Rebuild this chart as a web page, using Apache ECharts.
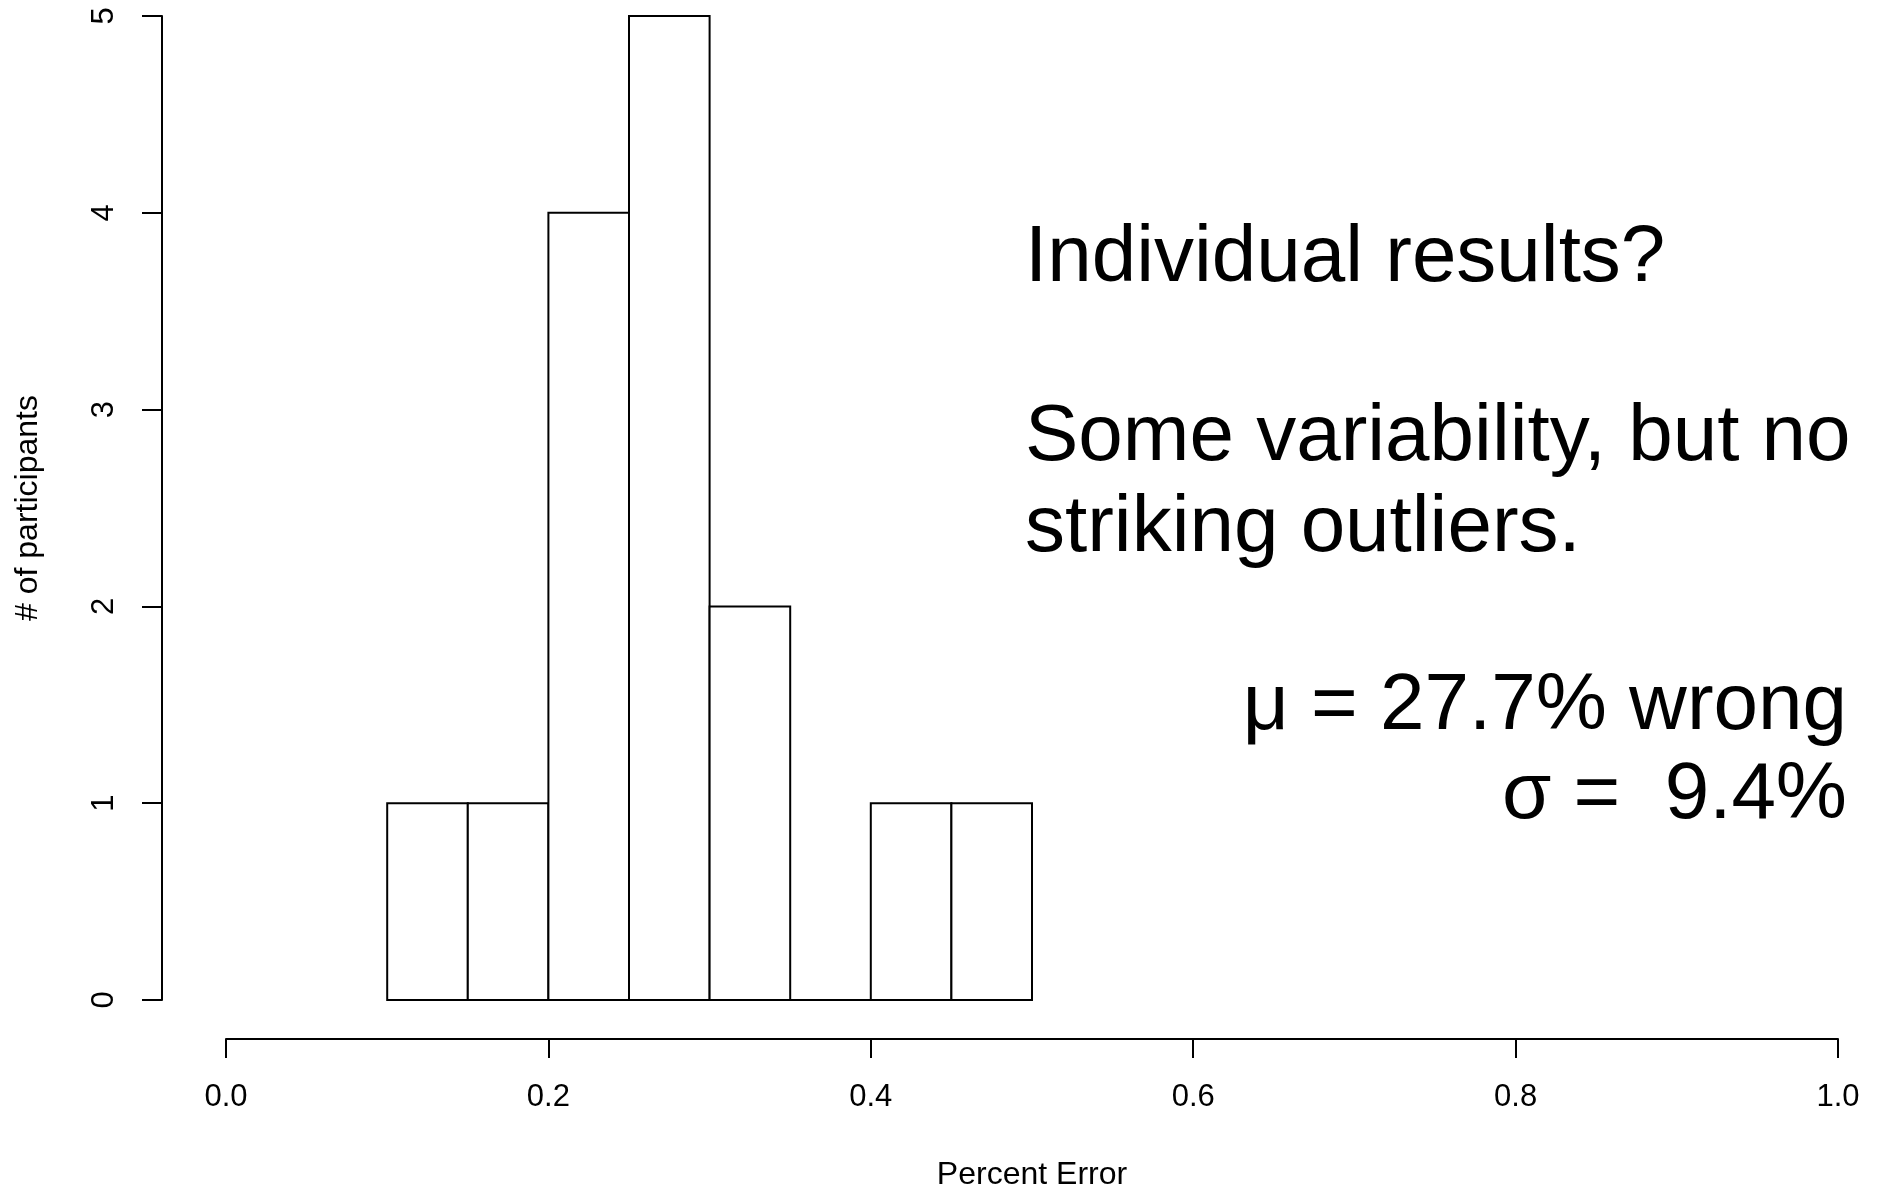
<!DOCTYPE html>
<html>
<head>
<meta charset="utf-8">
<script src="https://cdn.jsdelivr.net/npm/echarts@6/dist/echarts.min.js"></script>
<style>
  html, body { margin: 0; padding: 0; background: #fff; }
  #chart { width: 1880px; height: 1188px; }
</style>
</head>
<body>
<div id="chart"></div>
<script>
// Histogram bins (Percent Error) and counts (# of participants)
const binStarts = [0.10, 0.15, 0.20, 0.25, 0.30, 0.35, 0.40, 0.45];
const binEnds   = [0.15, 0.20, 0.25, 0.30, 0.35, 0.40, 0.45, 0.50];
const counts    = [1, 1, 4, 5, 2, 0, 1, 1];

const xTicks = [0.0, 0.2, 0.4, 0.6, 0.8, 1.0];
const yTicks = [0, 1, 2, 3, 4, 5];

const xTitle = 'Percent Error';
const yTitle = '# of participants';

const noteLeft = ['Individual results?', 'Some variability, but no', 'striking outliers.'];
const noteRight = ['\u03bc = 27.7% wrong', '\u03c3 =  9.4%'];

const FONT = 'Liberation Sans, Arial, Helvetica, sans-serif';
const NOTE_FONT = '80px ' + FONT;

const chart = echarts.init(document.getElementById('chart'), null, { renderer: 'canvas' });

const data = binStarts.map((s, i) => [s, binEnds[i], counts[i]]);

const option = {
  backgroundColor: '#ffffff',
  animation: false,
  grid: { left: 226, right: 42, top: 16, bottom: 188, containLabel: false, outerBoundsMode: 'none' },
  xAxis: {
    type: 'value',
    min: xTicks[0],
    max: xTicks[xTicks.length - 1],
    interval: 0.2,
    offset: 39,
    name: xTitle,
    nameLocation: 'middle',
    nameGap: 120,
    nameTextStyle: { color: '#000', fontSize: 32, fontFamily: FONT },
    axisLine: { show: true, onZero: false, lineStyle: { color: '#000', width: 2 } },
    axisTick: { show: true, length: 19, lineStyle: { color: '#000', width: 2 } },
    axisLabel: {
      color: '#000', fontSize: 31, fontFamily: FONT, margin: 43,
      showMinLabel: true, showMaxLabel: true,
      formatter: v => Number(v).toFixed(1)
    },
    splitLine: { show: false }
  },
  yAxis: {
    type: 'value',
    min: yTicks[0],
    max: yTicks[yTicks.length - 1],
    interval: 1,
    offset: 64,
    name: yTitle,
    nameLocation: 'middle',
    nameGap: 118,
    nameRotate: 90,
    nameTextStyle: { color: '#000', fontSize: 32, fontFamily: FONT },
    axisLine: { show: true, onZero: false, lineStyle: { color: '#000', width: 2 } },
    axisTick: { show: true, length: 20, lineStyle: { color: '#000', width: 2 } },
    axisLabel: {
      color: '#000', fontSize: 31, fontFamily: FONT, margin: 42, rotate: 90,
      showMinLabel: true, showMaxLabel: true
    },
    splitLine: { show: false }
  },
  series: [{
    type: 'custom',
    data: data,
    encode: { x: [0, 1], y: 2 },
    renderItem: function (params, api) {
      const p0 = api.coord([api.value(0), api.value(2)]);
      const p1 = api.coord([api.value(1), 0]);
      return {
        type: 'rect',
        shape: { x: p0[0], y: p0[1], width: p1[0] - p0[0], height: p1[1] - p0[1] },
        style: { fill: '#ffffff', stroke: '#000000', lineWidth: 2 }
      };
    }
  }],
  graphic: [
    { type: 'text', x: 1025, y: 259, style: { text: noteLeft[0], fill: '#000', font: NOTE_FONT, align: 'left', verticalAlign: 'middle' } },
    { type: 'text', x: 1025, y: 438, style: { text: noteLeft[1], fill: '#000', font: NOTE_FONT, align: 'left', verticalAlign: 'middle' } },
    { type: 'text', x: 1025, y: 529, style: { text: noteLeft[2], fill: '#000', font: NOTE_FONT, align: 'left', verticalAlign: 'middle' } },
    { type: 'text', x: 1847, y: 707, style: { text: noteRight[0], fill: '#000', font: NOTE_FONT, align: 'right', verticalAlign: 'middle' } },
    { type: 'text', x: 1847, y: 796, style: { text: noteRight[1], fill: '#000', font: NOTE_FONT, align: 'right', verticalAlign: 'middle' } }
  ]
};

chart.setOption(option);
</script>
</body>
</html>
